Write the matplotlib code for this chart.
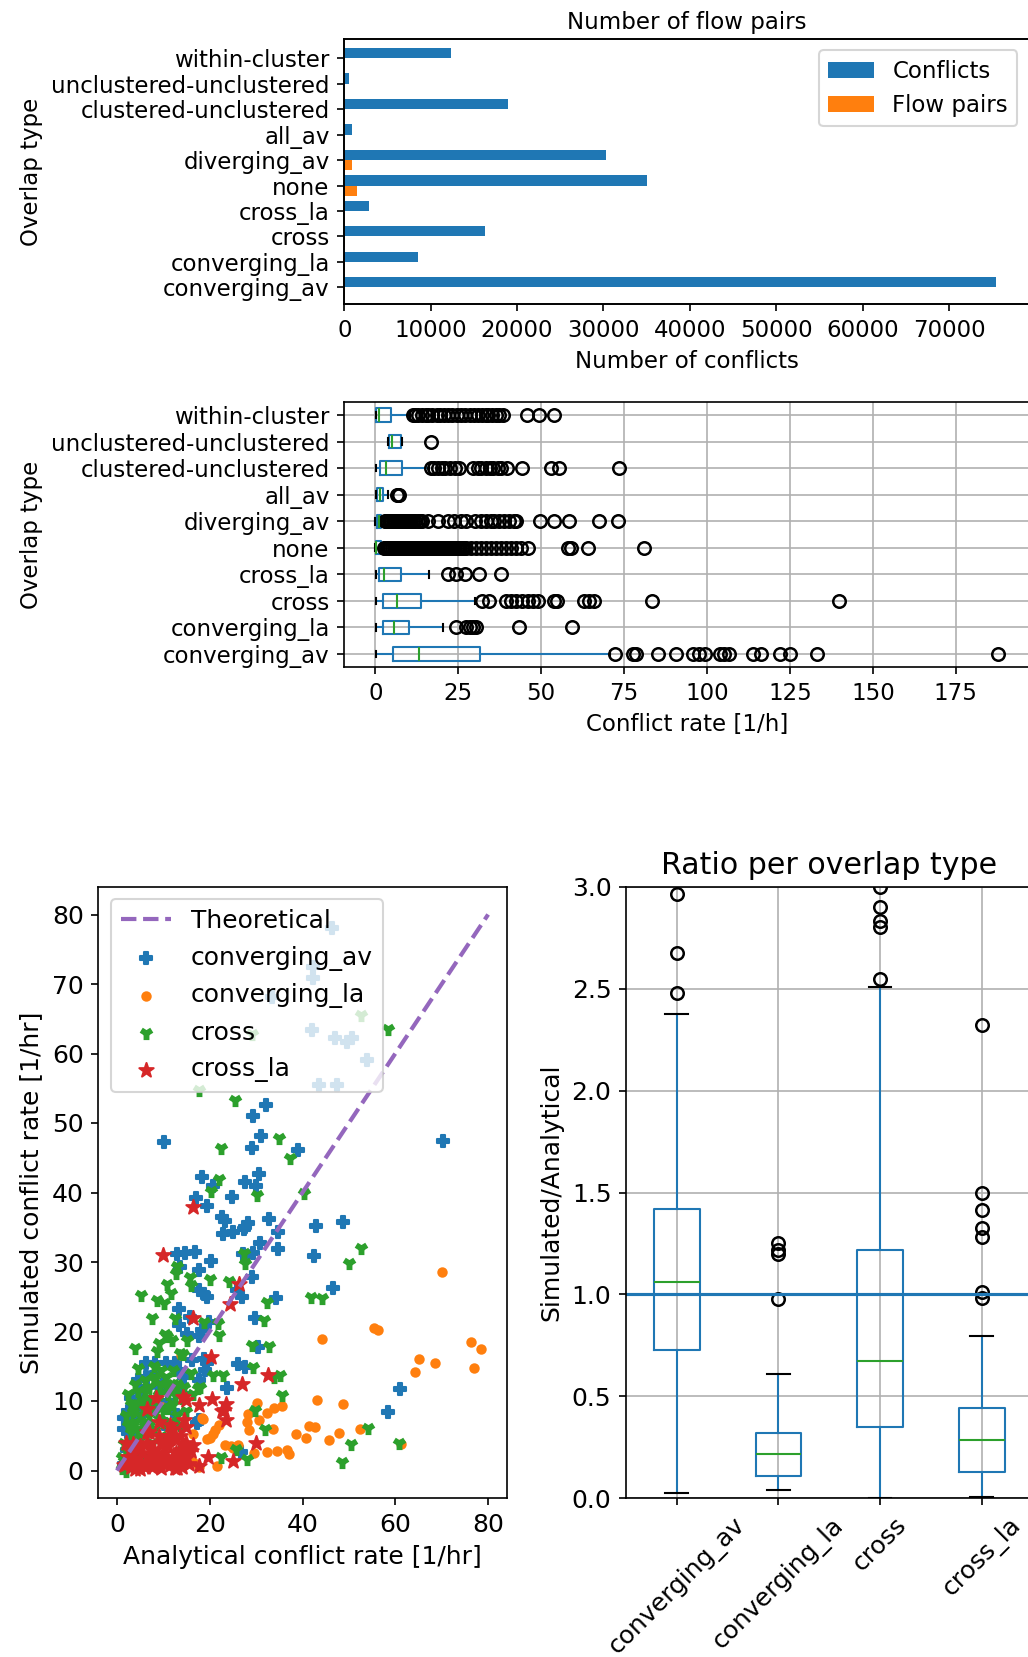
import matplotlib
matplotlib.use("Agg")
import matplotlib.pyplot as plt
import numpy as np

# ---------------------------------------------------------------- data
overlap_types = ["converging_av", "converging_la", "cross", "cross_la", "none",
                 "diverging_av", "all_av", "clustered-unclustered",
                 "unclustered-unclustered", "within-cluster"]
conflict_counts = [75430, 8490, 16280, 2860, 35070, 30290, 890, 18980, 510, 12350]
flow_pair_counts = [60, 25, 45, 20, 1505, 926, 10, 50, 5, 40]

# conflict rate per flow pair, five-number summaries and outliers
rate_whislo = [0.1, 0.1, 0.1, 0.1, 0.0, 0.0, 0.1, 0.1, 3.7, 0.1]
rate_q1 = [5.2, 2.2, 2.2, 1.2, 0.1, 0.4, 0.5, 1.5, 4.2, 0.2]
rate_med = [13.0, 5.7, 6.4, 2.7, 0.3, 1.0, 1.4, 3.2, 5.0, 1.2]
rate_q3 = [31.6, 10.0, 13.8, 7.8, 1.7, 1.7, 2.2, 7.95, 7.8, 4.8]
rate_whishi = [70.6, 20.3, 29.9, 16.3, 2.4, 2.6, 3.9, 16.3, 8.0, 10.3]
rate_fliers = [
    [72.1, 77.7, 78.5, 85.2, 90.5, 95.8, 97.6, 99.3, 103.8, 105.0, 106.7,
     113.9, 116.4, 121.9, 125.0, 133.2, 187.8],
    [24.4, 27.4, 28.6, 29.4, 30.4, 43.3, 59.3],
    [32.2, 34.2, 39.4, 40.9, 42.5, 44.3, 46.0, 47.5, 49.0, 53.9, 54.9, 62.8,
     64.3, 65.8, 83.3, 139.8],
    [21.8, 24.3, 26.9, 31.3, 38.0],
    [2.6, 3.0, 3.5, 4.0, 4.5, 5.0, 5.5, 6.0, 6.5, 7.0, 7.5, 8.0, 8.5, 9.0,
     9.5, 10.0, 10.5, 11.0, 11.5, 12.0, 12.5, 13.0, 13.5, 14.0, 14.5, 15.0,
     15.5, 16.0, 16.5, 17.0, 17.5, 18.0, 18.5, 19.0, 19.5, 20.0, 20.5, 21.0,
     21.5, 22.0, 22.5, 23.0, 23.5, 24.0, 24.5, 25.0, 25.6, 26.2, 26.8, 27.4,
     28.9, 30.4, 31.9, 33.4, 34.9, 36.4, 37.9, 39.4, 40.9, 42.4, 44.0, 46.0,
     58.0, 59.1, 64.1, 80.9],
    [2.8, 3.2, 3.6, 4.0, 4.4, 4.8, 5.2, 5.6, 6.0, 6.5, 7.0, 7.5, 8.0, 8.5,
     9.0, 9.6, 10.2, 10.8, 11.4, 12.0, 12.7, 13.4, 14.1, 15.8, 18.8, 21.8,
     23.8, 25.9, 27.4, 29.9, 31.9, 33.4, 34.9, 35.9, 37.4, 38.9, 40.4, 41.9,
     42.5, 49.6, 54.0, 58.4, 67.3, 73.1],
    [6.6, 6.9, 7.2],
    [16.9, 17.8, 18.9, 20.2, 21.0, 22.4, 24.0, 25.3, 29.5, 30.8, 31.9, 33.2,
     34.5, 35.6, 36.9, 38.0, 39.7, 44.3, 53.0, 55.3, 73.6],
    [16.8],
    [11.2, 12.0, 12.8, 13.9, 15.1, 16.0, 17.2, 18.5, 19.6, 20.8, 22.0, 23.1,
     24.5, 25.9, 27.0, 28.4, 29.6, 30.8, 32.1, 33.3, 34.0, 35.2, 36.5, 37.4,
     38.6, 45.7, 49.3, 53.7],
]

# analytical vs simulated conflict rate per flow pair
conv_av_analytical = [46.3, 42.3, 42.3, 33.4, 42.0, 47.1, 49.5, 50.7, 54.0, 43.6, 47.5,
                      32.2, 29.4, 31.0, 10.2, 70.3, 29.1, 39.1, 18.3, 30.7, 27.6, 20.7,
                      30.0, 17.1, 19.4, 24.8, 22.6, 23.2, 25.1, 22.8, 27.6, 28.3, 27.3,
                      32.7, 34.7, 30.9, 34.7, 27.1, 29.4, 28.0, 13.0, 14.7, 16.9, 20.3,
                      13.7, 17.6, 29.1, 25.9, 26.9, 34.2, 17.6, 18.7, 19.4, 13.3, 15.8,
                      29.8, 13.3, 15.1, 19.8, 18.3, 17.6, 30.5, 18.7, 19.4, 26.2, 27.6,
                      4.6, 6.2, 5.1, 6.2, 8.3, 13.3, 14.4, 16.2, 17.6, 19.0, 23.7, 12.6,
                      2.4, 17.6, 11.5, 10.1, 42.4, 46.6, 43.0, 48.7, 61.0, 58.5, 17.2,
                      26.8, 3.0, 5.5, 8.0, 9.5, 11.0, 7.0, 4.0, 1.5, 10.5, 12.0, 1.8,
                      1.5, 2.5, 3.5, 4.5, 3.0, 6.5, 8.5, 10.0, 12.5, 14.0, 1.5, 2.2]
conv_av_simulated = [78.0, 72.4, 70.9, 68.1, 63.4, 62.2, 61.6, 62.2, 59.1, 55.5, 55.5,
                     52.6, 51.0, 48.1, 47.2, 47.4, 46.4, 46.1, 42.3, 42.6, 41.5, 41.0,
                     41.0, 39.2, 38.1, 39.4, 36.5, 35.9, 34.3, 34.1, 35.1, 35.6, 34.8,
                     36.2, 34.3, 32.7, 31.9, 31.2, 31.3, 30.8, 31.2, 31.3, 31.4, 30.2,
                     29.3, 28.9, 27.8, 26.0, 25.0, 24.8, 26.0, 25.4, 25.0, 23.3, 22.1,
                     22.0, 20.9, 19.7, 21.3, 20.2, 19.3, 17.8, 16.1, 15.4, 15.3, 14.9,
                     13.0, 13.4, 11.3, 15.4, 15.4, 14.4, 13.5, 15.9, 13.0, 14.4, 11.8,
                     11.6, 7.2, 7.2, 6.2, 6.7, 30.9, 26.2, 35.2, 35.8, 11.7, 8.4, 6.8,
                     2.6, 5.0, 8.0, 9.5, 12.0, 10.0, 6.0, 3.0, 1.0, 15.5, 8.5, 7.5,
                     6.0, 8.5, 7.5, 9.5, 10.5, 12.0, 14.0, 12.5, 15.5, 11.0, 7.5, 3.0]

conv_la_analytical = [70.0, 55.3, 56.2, 44.3, 76.4, 78.4, 65.0, 68.5, 64.2, 76.9, 43.1,
                      48.8, 41.5, 42.8, 40.8, 45.8, 47.8, 52.3, 61.2, 38.5, 13.8, 30.2,
                      32.4, 33.8, 35.6, 28.2, 28.1, 28.4, 30.6, 33.6, 32.4, 34.4, 36.7,
                      37.0, 29.5, 23.2, 24.5, 19.5, 20.0, 22.1, 21.2, 20.7, 18.4, 16.3,
                      21.6, 17.7, 9.7, 18.5, 16.5, 26.0, 25.0, 12.5, 14.5]
conv_la_simulated = [28.6, 20.5, 20.2, 18.9, 18.5, 17.5, 16.0, 15.5, 14.2, 14.7, 10.1,
                     9.5, 6.4, 6.2, 4.7, 4.4, 5.4, 5.9, 3.8, 5.2, 16.6, 9.7, 8.3, 9.0,
                     9.3, 8.1, 7.0, 5.8, 7.2, 6.0, 2.6, 2.8, 3.0, 2.4, 2.5, 3.7, 3.5,
                     4.6, 4.7, 6.5, 5.8, 5.2, 7.5, 5.3, 0.7, 0.5, 9.2, 7.4, 1.2, 3.6,
                     3.3, 1.0, 0.8]

cross_analytical = [52.7, 58.4, 29.1, 17.6, 25.4, 35.0, 22.5, 37.3, 22.0, 40.4, 20.2,
                    30.2, 52.6, 50.1, 41.9, 44.3, 54.2, 50.4, 48.5, 60.9, 5.2, 3.9, 7.5,
                    8.7, 10.2, 10.9, 11.6, 12.7, 13.0, 15.8, 15.9, 20.1, 24.2, 27.7,
                    27.4, 32.4, 31.7, 29.2, 32.8, 29.4, 35.6, 35.1, 33.8, 29.7, 32.0,
                    28.1, 25.6, 22.4, 20.8, 22.9, 17.5, 22.0, 21.8, 18.8, 15.2, 10.4,
                    10.7, 11.8, 9.1, 8.6, 13.7, 14.3, 4.6, 3.9, 5.7, 8.6, 7.9, 9.3,
                    10.8, 2.0, 3.0, 4.0, 5.0, 6.0, 7.0, 8.0, 9.0, 10.0, 11.0, 12.0,
                    13.0, 14.0, 6.5, 4.5, 3.5, 2.5, 7.5, 9.5, 11.5, 1.5, 3.0, 5.5, 13.5,
                    15.0, 16.5, 1.0, 2.0, 14.0, 16.0, 12.0, 8.0, 6.0, 18.0, 12.5,
                    1.5, 2.5, 3.5, 4.5, 5.0, 5.5, 6.0, 7.0, 7.5, 8.5, 9.0, 10.0, 10.5,
                    11.0, 12.5, 13.0, 3.0, 4.0, 2.0, 6.5, 8.0, 9.5, 5.5, 4.0, 7.0,
                    12.0, 14.5, 2.5, 1.0, 3.5]
cross_simulated = [65.5, 63.5, 62.8, 54.7, 53.3, 47.9, 46.4, 44.9, 41.9, 40.0, 40.2,
                   39.7, 32.0, 29.9, 25.0, 24.8, 6.1, 3.8, 1.2, 4.0, 25.3, 17.6, 21.9,
                   24.6, 24.1, 26.9, 25.6, 28.4, 29.4, 27.8, 26.7, 27.5, 27.2, 29.8,
                   31.3, 24.3, 21.7, 18.1, 17.9, 14.9, 10.8, 13.7, 13.5, 8.7, 5.9, 1.7,
                   3.1, 1.9, 13.7, 13.7, 11.8, 19.5, 21.2, 21.4, 18.8, 19.7, 19.3,
                   18.8, 18.3, 17.2, 16.9, 16.7, 14.7, 9.6, 9.2, 10.3, 13.2, 12.5,
                   12.0, 3.0, 5.5, 7.0, 4.5, 6.5, 8.0, 6.0, 7.5, 9.0, 11.0, 9.5, 12.5,
                   10.5, 10.5, 11.5, 8.5, 6.5, 4.0, 5.0, 7.0, 1.5, 1.0, 2.0, 6.5, 8.5,
                   11.0, 0.3, 0.0, 3.0, 14.0, 14.5, 15.0, 13.0, 12.0, 22.0,
                   4.0, 3.5, 2.5, 6.0, 8.0, 10.0, 11.5, 12.0, 10.0, 8.5, 11.0, 7.0,
                   13.5, 9.0, 11.0, 8.0, 9.5, 12.5, 8.0, 7.0, 13.5, 14.5, 5.5, 4.5,
                   6.5, 12.5, 12.0, 11.0, 2.0, 6.5]

cross_la_analytical = [16.5, 10.0, 26.4, 24.4, 16.5, 20.3, 26.9, 32.6, 14.9, 14.3, 20.4,
                       23.5, 23.0, 23.6, 17.6, 8.4, 6.4, 14.5, 15.0, 19.7, 25.0, 30.0,
                       17.8, 10.4, 16.5, 22.6, 1.5, 2.5, 3.0, 4.0, 4.5, 5.0, 5.5, 6.0,
                       6.5, 7.0, 7.5, 8.0, 8.5, 9.0, 9.5, 10.0, 10.5, 11.0, 11.5, 12.0,
                       12.5, 13.0, 13.5, 14.0, 14.5, 15.0, 15.5, 12.0, 9.0, 3.5, 2.0,
                       7.0, 11.0, 5.0, 8.0, 13.0, 3.0,
                       2.0, 3.5, 5.0, 6.0, 7.5, 8.0, 9.0, 10.5, 11.0, 12.5, 13.5, 14.5,
                       15.0, 16.0, 6.5, 4.0, 9.5, 11.5, 12.8, 7.0]
cross_la_simulated = [37.9, 31.0, 26.8, 24.0, 22.0, 16.3, 12.4, 13.7, 10.1, 10.6, 10.3,
                      9.6, 8.7, 7.2, 9.4, 10.4, 8.8, 7.2, 6.2, 2.0, 1.3, 4.0, 0.6, 4.1,
                      3.6, 8.5, 0.8, 2.0, 0.5, 1.5, 3.0, 0.2, 2.5, 1.0, 4.0, 2.0, 0.5,
                      3.0, 1.5, 5.0, 0.3, 2.5, 1.0, 3.5, 0.8, 2.0, 4.5, 1.2, 3.0, 0.5,
                      2.2, 4.0, 1.0, 6.0, 7.0, 3.8, 4.0, 5.5, 5.0, 1.2, 0.9, 0.3, 2.8,
                      1.0, 1.8, 3.5, 0.5, 3.0, 0.8, 2.0, 3.8, 1.5, 0.3, 5.0, 3.5, 1.8,
                      2.8, 5.5, 0.2, 4.0, 6.5, 2.5, 1.0]

theoretical_range = [0, 80]

# ratio simulated / analytical per overlap type
ratio_types = ["converging_av", "converging_la", "cross", "cross_la"]
ratio_whislo = [0.025, 0.041, 0.003, 0.005]
ratio_q1 = [0.727, 0.111, 0.348, 0.130]
ratio_med = [1.06, 0.217, 0.673, 0.286]
ratio_q3 = [1.419, 0.322, 1.218, 0.444]
ratio_whishi = [2.378, 0.61, 2.509, 0.796]
ratio_fliers = [[2.48, 2.673, 2.964],
                [0.98, 1.20, 1.22, 1.25],
                [2.545, 2.80, 2.83, 2.90, 3.0],
                [0.981, 1.013, 1.283, 1.324, 1.414, 1.50, 2.321]]

# ---------------------------------------------------------------- layout
W, H, DPI = 1028, 1657, 150


def frame(left, top, right, bottom):
    return [left / W, 1 - bottom / H, (right - left) / W, (bottom - top) / H]


fig = plt.figure(figsize=(W / DPI, H / DPI), dpi=DPI)

box_style = dict(boxprops=dict(color="#1f77b4"),
                 whiskerprops=dict(color="#1f77b4"),
                 capprops=dict(color="k"),
                 medianprops=dict(color="#2ca02c"),
                 flierprops=dict(marker="o", markerfacecolor="none",
                                 markeredgecolor="k", markeredgewidth=1.2))

# --- number of conflicts / flow pairs per overlap type
ax1 = fig.add_axes(frame(344.3, 39, 1028.6, 304))
ypos = np.arange(len(overlap_types))
ax1.barh(ypos + 0.2, conflict_counts, height=0.4, color="C0", label="Conflicts")
ax1.barh(ypos - 0.2, flow_pair_counts, height=0.4, color="C1", label="Flow pairs")
ax1.set_yticks(ypos, overlap_types)
ax1.set_ylim(-0.65, 9.75)
ax1.tick_params(labelsize=11)
ax1.set_xlabel("Number of conflicts", fontsize=11)
ax1.set_ylabel("Overlap type", fontsize=11)
ax1.legend(loc="upper right", fontsize=11)
ax1_top = ax1.twiny()
ax1_top.set_xticks([])
ax1_top.set_xlabel("Number of flow pairs", fontsize=11, labelpad=5)

# --- conflict rate distribution per overlap type
ax2 = fig.add_axes(frame(344.3, 401.7, 1029.3, 667.3))
rate_stats = [dict(label=n, whislo=a, q1=b, med=c, q3=d, whishi=e, fliers=f)
              for n, a, b, c, d, e, f in zip(overlap_types, rate_whislo, rate_q1,
                                             rate_med, rate_q3, rate_whishi,
                                             rate_fliers)]
ax2.bxp(rate_stats, orientation="horizontal", **box_style)
ax2.grid(True)
ax2.tick_params(labelsize=11)
ax2.set_xlabel("Conflict rate [1/h]", fontsize=11)
ax2.set_ylabel("Overlap type", fontsize=11)

# --- analytical vs simulated scatter
ax3 = fig.add_axes(frame(98.3, 886.7, 506.7, 1498.3))
ax3.plot(theoretical_range, theoretical_range, "--", color="C4", lw=2,
         label="Theoretical")
ax3.scatter(conv_av_analytical, conv_av_simulated, marker="P", s=30, color="C0",
            label="converging_av")
ax3.scatter(conv_la_analytical, conv_la_simulated, marker="o", s=16, color="C1",
            label="converging_la")
ax3.scatter(cross_analytical, cross_simulated, marker="1", s=40, linewidths=2.8,
            color="C2", label="cross")
ax3.scatter(cross_la_analytical, cross_la_simulated, marker="*", s=52, color="C3",
            label="cross_la")
ax3.tick_params(labelsize=12)
ax3.set_xlabel("Analytical conflict rate [1/hr]", fontsize=12)
ax3.set_ylabel("Simulated conflict rate [1/hr]", fontsize=12)
ax3.legend(loc="upper left", fontsize=12)

# --- ratio per overlap type
ax4 = fig.add_axes(frame(626, 886.7, 1032.5, 1498.3))
ratio_stats = [dict(label=n, whislo=a, q1=b, med=c, q3=d, whishi=e, fliers=f)
               for n, a, b, c, d, e, f in zip(ratio_types, ratio_whislo, ratio_q1,
                                              ratio_med, ratio_q3, ratio_whishi,
                                              ratio_fliers)]
ax4.bxp(ratio_stats, **box_style)
ax4.axhline(1.0, color="C0", lw=1.5)
ax4.set_ylim(0, 3)
ax4.grid(True)
ax4.tick_params(labelsize=12)
ax4.tick_params(axis="x", labelrotation=45)
ax4.set_ylabel("Simulated/Analytical", fontsize=12)
ax4.set_title("Ratio per overlap type", fontsize=14.4)

fig.savefig("out.png", dpi=DPI)
